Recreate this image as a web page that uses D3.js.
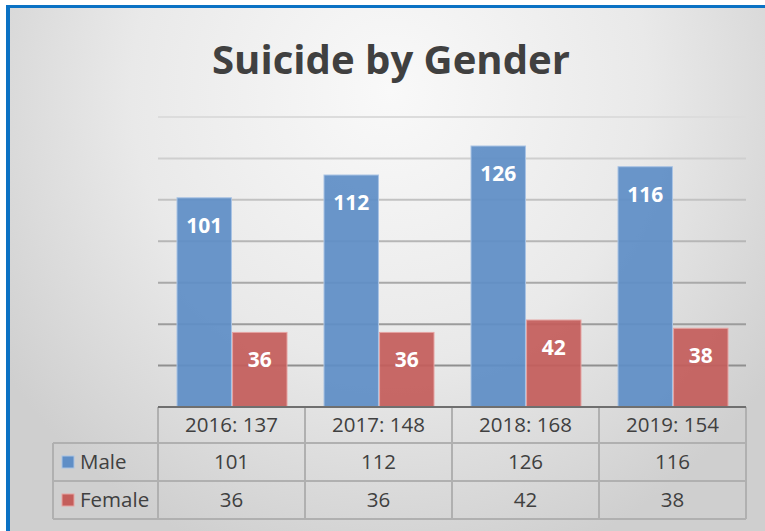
<!DOCTYPE html>
<html><head><meta charset="utf-8">
<script src="https://cdn.jsdelivr.net/npm/d3@7"></script>
<style>html,body{margin:0;padding:0;background:#fff;}svg{display:block;}</style>
</head><body>
<svg id="c" width="765" height="531"></svg>
<script>
const years = ["2016", "2017", "2018", "2019"];
const totals = [137, 148, 168, 154];
const seriesNames = ["Male", "Female"];
const maleValues = [101, 112, 126, 116];
const femaleValues = [36, 36, 42, 38];
const yTicks = [20, 40, 60, 80, 100, 120, 140];
const title = "Suicide by Gender";

const svg = d3.select("#c");
const W = 765, H = 531;
const colors = {Male: "#5f8ec6", Female: "#c45e5b"};
const strokes = {Male: "#a9c3e4", Female: "#e6a3a2"};
const font = "'Open Sans', 'Liberation Sans', sans-serif";

// background
const defs = svg.append("defs");
const rg = defs.append("radialGradient").attr("id", "bg")
  .attr("gradientUnits", "userSpaceOnUse").attr("cx", 390).attr("cy", 90).attr("r", 470)
  .attr("gradientTransform", "translate(390,90) scale(1,1.05) translate(-390,-90)");
rg.append("stop").attr("offset", "0").attr("stop-color", "#f9f9f9");
rg.append("stop").attr("offset", "0.55").attr("stop-color", "#e9e9e9");
rg.append("stop").attr("offset", "1").attr("stop-color", "#cfcfcf");
svg.append("rect").attr("x", 6).attr("y", 6).attr("width", W - 6).attr("height", H - 6).attr("fill", "url(#bg)");
// blue frame (top & left)
svg.append("rect").attr("x", 6).attr("y", 5).attr("width", W - 6).attr("height", 3).attr("fill", "#0b72c4");
svg.append("rect").attr("x", 6).attr("y", 5).attr("width", 4).attr("height", H - 5).attr("fill", "#0b72c4");

// scales
const plotL = 158, plotR = 746, plotT = 117, plotB = 407;
const y = d3.scaleLinear().domain([0, 140]).range([plotB, plotT]);
const x0 = d3.scaleBand().domain(years).range([plotL, plotR]).padding(0);
const x1 = d3.scaleBand().domain(seriesNames).range([19, 129]).paddingInner(0.02);
const gridColor = d3.scaleLinear().domain([140, 20]).range(["#dcdcdc", "#8f8f8f"]);

// gridlines
svg.append("g").selectAll("line").data(yTicks).join("line")
  .attr("x1", plotL).attr("x2", plotR)
  .attr("y1", d => y(d)).attr("y2", d => y(d))
  .attr("stroke", d => gridColor(d)).attr("stroke-width", 2);

// bars
const data = years.map((yr, i) => ({year: yr, vals: [
  {s: "Male", v: maleValues[i]}, {s: "Female", v: femaleValues[i]}]}));
const groups = svg.append("g").selectAll("g").data(data).join("g")
  .attr("transform", d => `translate(${x0(d.year)},0)`);
groups.selectAll("rect").data(d => d.vals).join("rect")
  .attr("x", d => x1(d.s)).attr("width", x1.bandwidth())
  .attr("y", d => y(d.v)).attr("height", d => y(0) - y(d.v))
  .attr("fill", d => colors[d.s]).attr("fill-opacity", 0.93)
  .attr("stroke", d => strokes[d.s]).attr("stroke-width", 1);
groups.selectAll("text").data(d => d.vals).join("text")
  .attr("x", d => x1(d.s) + x1.bandwidth() / 2)
  .attr("y", d => y(d.v) + 35)
  .attr("text-anchor", "middle").attr("fill", "#fff")
  .attr("font-family", font).attr("font-weight", "bold").attr("font-size", 21)
  .text(d => d.v);

// title
const t = svg.append("text").attr("x", 391).attr("y", 74).attr("text-anchor", "middle")
  .attr("fill", "#404040").attr("font-family", font).attr("font-weight", "bold")
  .attr("font-size", 38).text(title);
const tw = t.node().getComputedTextLength();
t.attr("font-size", 38 * 358 / tw);

// data table
const rowY = [407, 443, 481, 519];
const legL = 53;
const tbl = svg.append("g");
const lineC = "#b0b0b0";
tbl.append("line").attr("x1", legL).attr("x2", plotR).attr("y1", rowY[1]).attr("y2", rowY[1]).attr("stroke", lineC).attr("stroke-width", 2);
tbl.append("line").attr("x1", legL).attr("x2", plotR).attr("y1", rowY[2]).attr("y2", rowY[2]).attr("stroke", lineC).attr("stroke-width", 2);
tbl.append("line").attr("x1", legL).attr("x2", plotR).attr("y1", rowY[3]).attr("y2", rowY[3]).attr("stroke", lineC).attr("stroke-width", 2);
tbl.append("line").attr("x1", legL).attr("x2", legL).attr("y1", rowY[1]).attr("y2", rowY[3]).attr("stroke", lineC).attr("stroke-width", 2);
const vx = years.map(d => x0(d)).concat([plotR]);
tbl.selectAll("line.v").data(vx).join("line").attr("class", "v")
  .attr("x1", d => d).attr("x2", d => d).attr("y1", rowY[0]).attr("y2", rowY[3])
  .attr("stroke", lineC).attr("stroke-width", 2);
tbl.append("line").attr("x1", plotL).attr("x2", plotR).attr("y1", plotB).attr("y2", plotB).attr("stroke", "#6f6f6f").attr("stroke-width", 2);

const txt = (sel) => sel.attr("font-family", font).attr("font-size", 20.5).attr("fill", "#404040");
tbl.selectAll("text.h").data(years).join("text").attr("class", "h")
  .attr("x", d => x0(d) + x0.bandwidth() / 2).attr("y", (rowY[0] + rowY[1]) / 2 + 7)
  .attr("text-anchor", "middle").call(txt)
  .text((d, i) => `${d}: ${totals[i]}`);
const rows = [maleValues, femaleValues];
seriesNames.forEach((s, r) => {
  const cy = (rowY[r + 1] + rowY[r + 2]) / 2;
  tbl.append("rect").attr("x", 62).attr("y", cy - 6).attr("width", 12).attr("height", 12)
    .attr("fill", colors[s]).attr("stroke", strokes[s]).attr("stroke-width", 1);
  tbl.append("text").attr("x", 80).attr("y", cy + 7).call(txt).text(s);
  tbl.selectAll("text.r" + r).data(rows[r]).join("text").attr("class", "r" + r)
    .attr("x", (d, i) => x0(years[i]) + x0.bandwidth() / 2).attr("y", cy + 7)
    .attr("text-anchor", "middle").call(txt).text(d => d);
});
</script>
</body></html>
